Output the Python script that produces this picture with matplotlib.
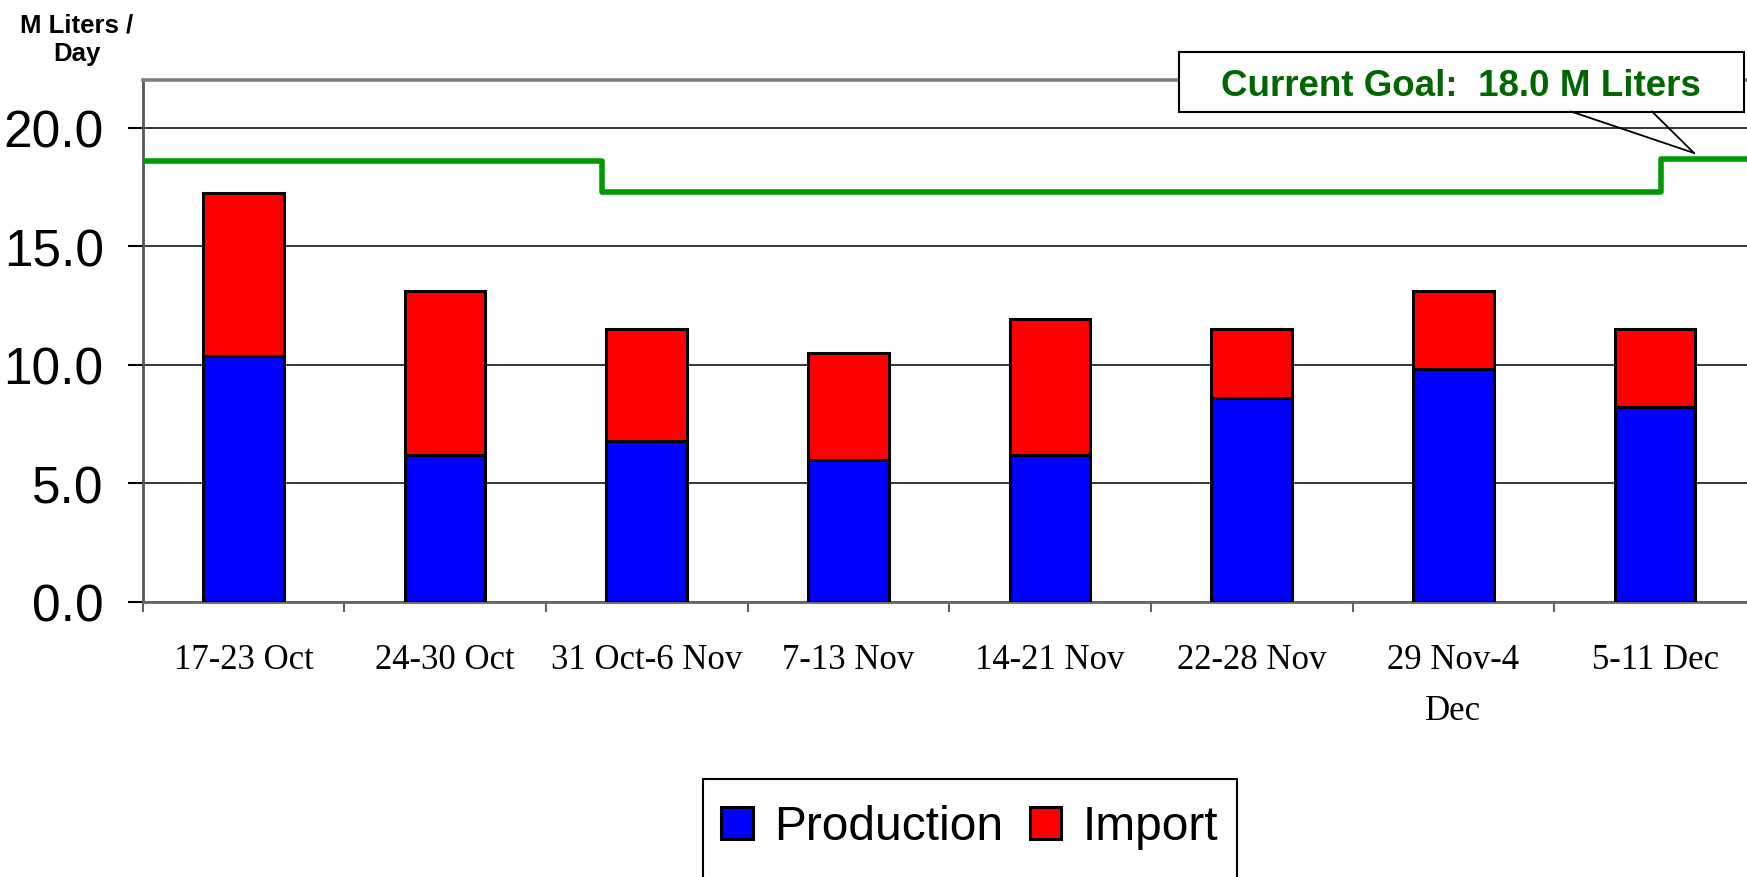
import numpy as np
import matplotlib.pyplot as plt
import matplotlib.patches as patches
from matplotlib.lines import Line2D

# weekly volumes, M liters / day
weeks = ['17-23 Oct', '24-30 Oct', '31 Oct-6 Nov', '7-13 Nov', '14-21 Nov',
         '22-28 Nov', '29 Nov-4\nDec', '5-11 Dec']
production = [10.35, 6.2, 6.8, 6.0, 6.2, 8.6, 9.8, 8.2]
imports = [6.9, 6.9, 4.7, 4.5, 5.75, 2.9, 3.3, 3.3]

# goal line (step), edges in category units
goal_edges = [-0.5, 1.78, 7.03, 7.5]
goal_values = [18.6, 17.3, 18.7]

W, H = 1747, 878


def fx(px):
    return px / W


def fy(py):
    return 1 - py / H


fig = plt.figure(figsize=(W / 100, H / 100), dpi=100)
ax = fig.add_axes([fx(142.6), fy(602.8), (1756 - 142.6) / W, (602.8 - 81.3) / H])

x = np.arange(len(weeks))
ax.bar(x, production, width=0.4, color='#0000FF', edgecolor='black',
       linewidth=2.2, zorder=3)
ax.bar(x, imports, width=0.4, bottom=production, color='#FF0000',
       edgecolor='black', linewidth=2.2, zorder=3)

st = ax.stairs(goal_values, goal_edges, baseline=None, color='#009900',
               linewidth=4, zorder=4)
st.set_joinstyle('round')
st.set_capstyle('round')

ax.set_xlim(-0.5, 7.5)
ax.set_ylim(0, 22)

ax.set_yticks([0, 5, 10, 15, 20])
ax.set_yticklabels(['%.1f' % v for v in [0, 5, 10, 15, 20]],
                   family='Liberation Sans', fontsize=37)
ax.yaxis.grid(True, color='black', linewidth=1.1)
ax.set_axisbelow(True)
ax.tick_params(axis='y', length=11, width=1.5, color='black', pad=17)

ax.set_xticks(np.arange(-0.5, 7.5, 1))
ax.set_xticklabels([])
ax.set_xticks(x, minor=True)
ax.set_xticklabels(weeks, minor=True, family='Liberation Serif', fontsize=25,
                   linespacing=1.7)
ax.tick_params(axis='x', which='major', length=7, width=1.5, color='#606060')
ax.tick_params(axis='x', which='minor', length=0, pad=30)

ax.spines['right'].set_visible(False)
ax.spines['top'].set_color('#808080')
ax.spines['top'].set_linewidth(2.6)
ax.spines['left'].set_color('#555555')
ax.spines['left'].set_linewidth(2)
ax.spines['bottom'].set_color('#666666')
ax.spines['bottom'].set_linewidth(2)

# y unit label
fig.text(fx(77), fy(40), 'M Liters /\nDay', ha='center', va='center',
         fontsize=18.5, fontweight='bold', family='Liberation Sans',
         linespacing=1.25)

# goal callout
box = patches.Rectangle((fx(1179), fy(112.5)), fx(1744) - fx(1179),
                        (112.5 - 53) / H, transform=fig.transFigure,
                        facecolor='white', edgecolor='black', linewidth=1.5,
                        zorder=5)
fig.add_artist(box)
for x0 in (1571, 1652):
    fig.add_artist(Line2D([fx(x0), fx(1694)], [fy(112.5), fy(154)],
                          transform=fig.transFigure, color='black',
                          linewidth=1.3, zorder=5))
fig.text(fx(1461), fy(87), 'Current Goal:  18.0 M Liters', ha='center',
         va='center', fontsize=26.5, fontweight='bold', color='#006600',
         family='Liberation Sans', zorder=6)

# legend
frame = patches.Rectangle((fx(703), fy(890)), fx(1237) - fx(703), (890 - 780) / H,
                          transform=fig.transFigure, facecolor='white',
                          edgecolor='black', linewidth=1.5, zorder=1)
fig.add_artist(frame)
handles = [patches.Patch(facecolor='#0000FF', edgecolor='black', linewidth=2.2),
           patches.Patch(facecolor='#FF0000', edgecolor='black', linewidth=2.2)]
leg = fig.legend(handles, ['Production', 'Import'], loc='center left',
                 bbox_to_anchor=(fx(697), fy(828)), ncol=2, frameon=False,
                 prop={'family': 'Liberation Sans', 'size': 34.5},
                 handlelength=0.66, handleheight=0.66, handletextpad=0.45,
                 columnspacing=0.55, borderpad=0)
leg.set_zorder(6)

fig.savefig('out.png', dpi=100)
